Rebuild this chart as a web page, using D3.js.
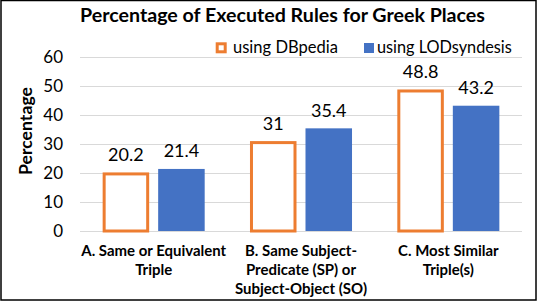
<!DOCTYPE html>
<html><head><meta charset="utf-8">
<script src="https://cdn.jsdelivr.net/npm/d3@7"></script>
<style>body{margin:0;background:#fff}svg{display:block}text{font-family:Lato,"Open Sans",sans-serif}</style>
</head><body>
<script>
const categories = [["A. Same or Equivalent","Triple"],["B. Same Subject-","Predicate (SP) or","Subject-Object (SO)"],["C. Most Similar","Triple(s)"]];
const seriesNames = ["using DBpedia","using LODsyndesis"];
const dbpedia = [20.2, 31, 48.8];
const lodsyndesis = [21.4, 35.4, 43.2];
const yTicks = [0,10,20,30,40,50,60];
const title = "Percentage of Executed Rules for Greek Places";
const yTitle = "Percentage";

(function(){
const W=538,H=302;
const svg=d3.select("body").append("svg").attr("width",W).attr("height",H);
svg.append("rect").attr("x",1).attr("y",0.5).attr("width",535).attr("height",299.5).attr("fill","#fff").attr("stroke","#000").attr("stroke-width",1.5);

function fit(sel, base, target){
  sel.attr("font-size",base);
  const w=sel.node().getComputedTextLength();
  const fs=base*target/w;
  sel.attr("font-size",fs);
  return fs;
}

const pl=80,pr=522,pt=57,pb=231;
const y=d3.scaleLinear().domain([0,60]).range([pb,pt]);
const x0=d3.scaleBand().domain(d3.range(categories.length)).range([pl,pr]).padding(0);
const x1=d3.scaleBand().domain([0,1]).range([0,x0.bandwidth()]).paddingInner(0.162).paddingOuter(0.408);

const yAxis=d3.axisLeft(y).tickValues(yTicks).tickSize(-(pr-pl)).tickPadding(17);
const ga=svg.append("g").attr("transform",`translate(${pl},0)`).call(yAxis);
ga.select(".domain").remove();
ga.selectAll(".tick line").attr("stroke","#d9d9d9");
ga.selectAll(".tick text").attr("font-size",17).attr("fill","#000").style("font-family","Lato");

// category label font size from first line width
const probe=svg.append("text").attr("font-weight","bold").text(categories[0][0]);
const catFs=fit(probe,14,145); probe.remove();

const data=categories.map((c,i)=>({i,vals:[dbpedia[i],lodsyndesis[i]]}));
const g=svg.selectAll("g.cat").data(data).enter().append("g").attr("class","cat").attr("transform",d=>`translate(${x0(d.i)},0)`);
g.each(function(d){
  const s=d3.select(this);
  s.append("rect").attr("x",x1(0)+1.5).attr("width",x1.bandwidth()-3).attr("y",y(d.vals[0])+1.5).attr("height",y(0)-y(d.vals[0])-1.5)
    .attr("fill","#fff").attr("stroke","#ED7D31").attr("stroke-width",3);
  s.append("rect").attr("x",x1(1)).attr("width",x1.bandwidth()).attr("y",y(d.vals[1])).attr("height",y(0)-y(d.vals[1])).attr("fill","#4472C4");
  d.vals.forEach((v,k)=>{
    s.append("text").attr("x",x1(k)+x1.bandwidth()/2).attr("y",y(v)-11.5).attr("text-anchor","middle").attr("font-size",18).attr("fill","#000").text(v);
  });
  const lines=categories[d.i];
  lines.forEach((ln,j)=>{
    s.append("text").attr("x",x0.bandwidth()/2).attr("y",256+j*19).attr("text-anchor","middle").attr("font-size",catFs).attr("font-weight","bold").attr("fill","#000").text(ln);
  });
});

const t=svg.append("text").attr("x",282.5).attr("y",22).attr("text-anchor","middle").attr("font-weight","bold").text(title);
fit(t,19,405);
const yt=svg.append("text").attr("transform","translate(32,131) rotate(-90)").attr("text-anchor","middle").attr("font-weight","bold").text(yTitle);
fit(yt,17,88);

const lg=svg.append("g");
lg.append("rect").attr("x",217.2).attr("y",43.8).attr("width",8).attr("height",8).attr("fill","#fff").attr("stroke","#ED7D31").attr("stroke-width",3);
const l1=lg.append("text").attr("x",233).attr("y",53).text(seriesNames[0]);
fit(l1,17,105);
lg.append("rect").attr("x",364).attr("y",43).attr("width",10).attr("height",10).attr("fill","#4472C4");
const l2=lg.append("text").attr("x",377).attr("y",53).text(seriesNames[1]);
fit(l2,17,135);
})();
</script>
</body></html>
